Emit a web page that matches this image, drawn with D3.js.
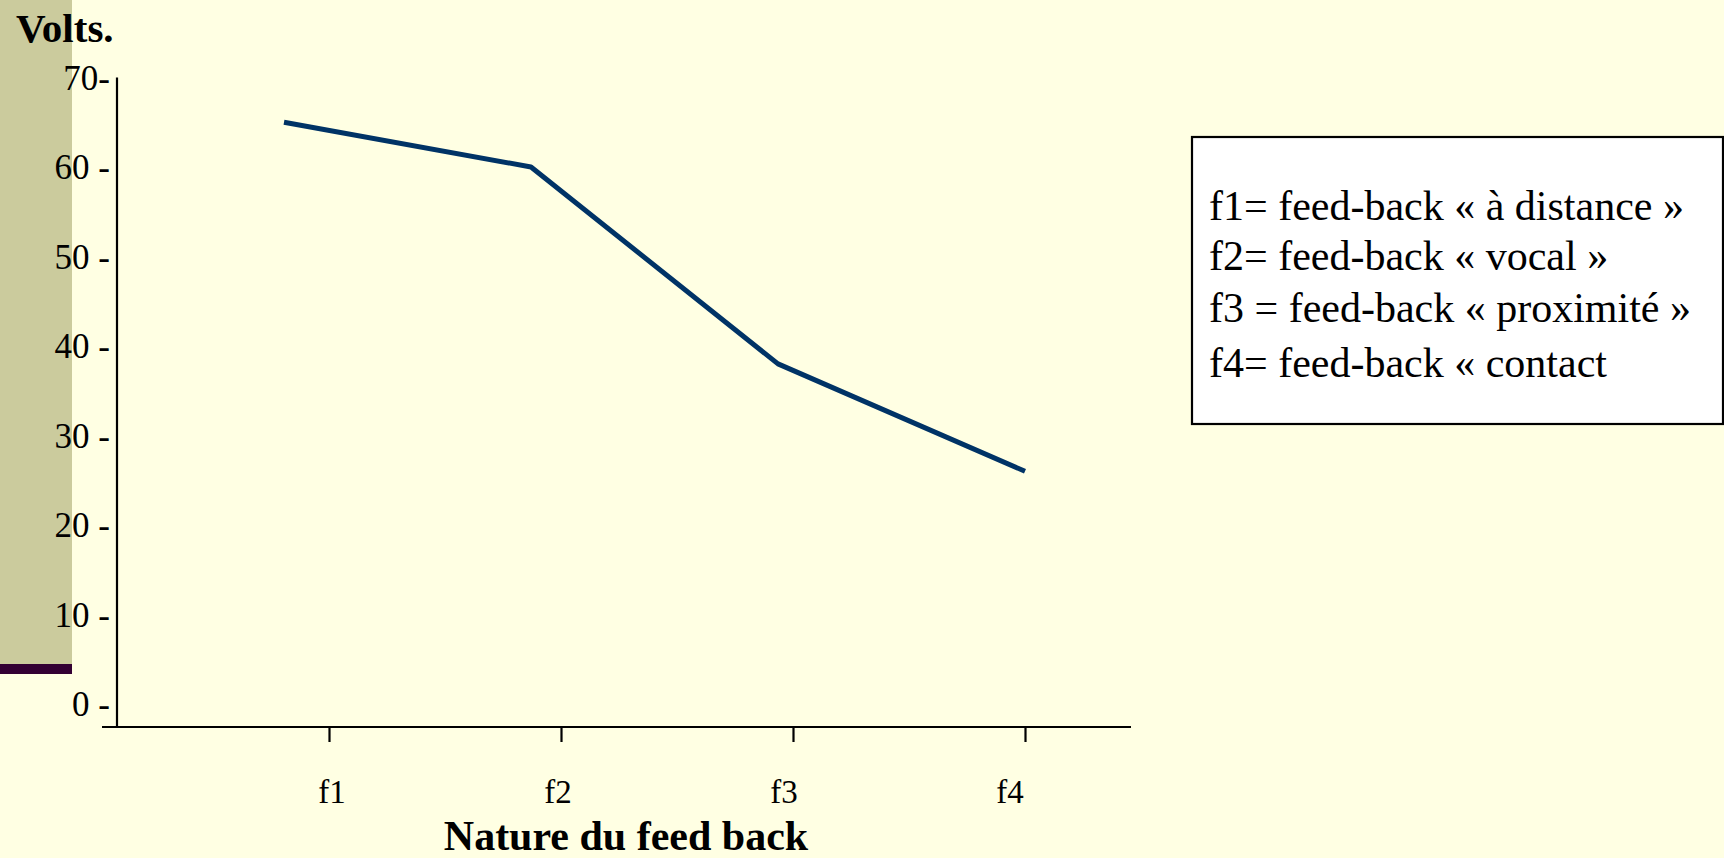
<!DOCTYPE html>
<html>
<head>
<meta charset="utf-8">
<script src="https://cdn.jsdelivr.net/npm/d3@7"></script>
<style>
  html, body { margin: 0; padding: 0; background: #ffffe3; overflow: hidden; }
  svg, svg text { font-family: 'Liberation Serif', 'Times New Roman', Times, serif; }
</style>
</head>
<body>
<svg id="chart" width="1724" height="858"></svg>
<script>
  'use strict';

  // Data
  var categories = ['f1', 'f2', 'f3', 'f4'];
  var volts = [65, 60, 38, 26];
  var yTicks = [0, 10, 20, 30, 40, 50, 60, 70];
  var yTickLabels = ['0 -', '10 -', '20 -', '30 -', '40 -', '50 -', '60 -', '70-'];
  var legendLines = [
    'f1= feed-back \u00ab \u00e0 distance \u00bb',
    'f2= feed-back \u00ab vocal \u00bb',
    'f3 = feed-back \u00ab proximit\u00e9 \u00bb',
    'f4= feed-back \u00ab contact'
  ];

  var svg = d3.select('#chart')
        .attr('font-family', 'Liberation Serif, Times New Roman, serif'),
      axisY = 727,
      yAxisX = 117;

  // slide decoration: olive side bar with the purple stripe under it
  svg.append('rect')
    .attr('width', 1724).attr('height', 858)
    .attr('fill', '#ffffe3');
  svg.append('rect')
    .attr('x', 0).attr('y', 0)
    .attr('width', 72).attr('height', 664)
    .attr('fill', '#cbcb9d');
  svg.append('rect')
    .attr('x', 0).attr('y', 664)
    .attr('width', 72).attr('height', 10)
    .attr('fill', '#330033');

  var y = d3.scaleLinear().domain([0, 70]).range([704, 77.5]);

  // tick marks sit on one grid, the plotted line and the labels are a bit off it
  var xTick = d3.scalePoint().domain(categories).range([329, 1025]);
  var xLabel = d3.scalePoint().domain(categories).range([332, 1010]);
  var xLine = d3.scalePoint().domain(categories).range([284, 1025]);

  // axes lines
  svg.append('line')
    .attr('x1', yAxisX).attr('x2', yAxisX)
    .attr('y1', y(70)).attr('y2', axisY)
    .attr('stroke', '#000').attr('stroke-width', 2.2);
  svg.append('line')
    .attr('x1', 102).attr('x2', 1131)
    .attr('y1', axisY).attr('y2', axisY)
    .attr('stroke', '#000').attr('stroke-width', 2.2);

  // x ticks
  var xAxis = svg.append('g')
    .attr('transform', 'translate(0,' + axisY + ')')
    .call(d3.axisBottom(xTick).tickSize(15).tickFormat(''));
  xAxis.select('.domain').remove();
  xAxis.selectAll('.tick line').attr('stroke', '#000').attr('stroke-width', 2.2);

  svg.append('g').selectAll('text')
    .data(categories)
    .join('text')
    .attr('x', function(d) { return xLabel(d); })
    .attr('y', 803)
    .attr('text-anchor', 'middle')
    .attr('font-size', 33)
    .attr('fill', '#000')
    .text(function(d) { return d; });

  // y tick labels, the dash is part of the text
  svg.append('g').selectAll('text')
    .data(yTicks)
    .join('text')
    .attr('x', 110)
    .attr('y', function(d) { return y(d) + 12; })
    .attr('text-anchor', 'end')
    .attr('font-size', 35)
    .attr('fill', '#000')
    .text(function(d, i) { return yTickLabels[i]; });

  svg.append('text')
    .attr('x', 16).attr('y', 42)
    .attr('font-size', 41).attr('font-weight', 'bold')
    .text('Volts.');

  svg.append('text')
    .attr('x', 626).attr('y', 850)
    .attr('text-anchor', 'middle')
    .attr('font-size', 42).attr('font-weight', 'bold')
    .text('Nature du feed back');

  // the series
  var line = d3.line()
    .x(function(d, i) { return xLine(categories[i]); })
    .y(function(d) { return y(d); });

  svg.append('path')
    .datum(volts)
    .attr('d', line)
    .attr('fill', 'none')
    .attr('stroke', '#003366')
    .attr('stroke-width', 5)
    .attr('stroke-linejoin', 'bevel');

  // legend box
  var legend = svg.append('g');
  legend.append('rect')
    .attr('x', 1192).attr('y', 137)
    .attr('width', 531).attr('height', 287)
    .attr('fill', '#fff')
    .attr('stroke', '#000').attr('stroke-width', 2.2);
  legend.selectAll('text')
    .data(legendLines)
    .join('text')
    .attr('x', 1209)
    .attr('y', function(d, i) { return [220, 270, 322, 377][i]; })
    .attr('font-size', 42)
    .attr('fill', '#000')
    .text(function(d) { return d; });
</script>
</body>
</html>
